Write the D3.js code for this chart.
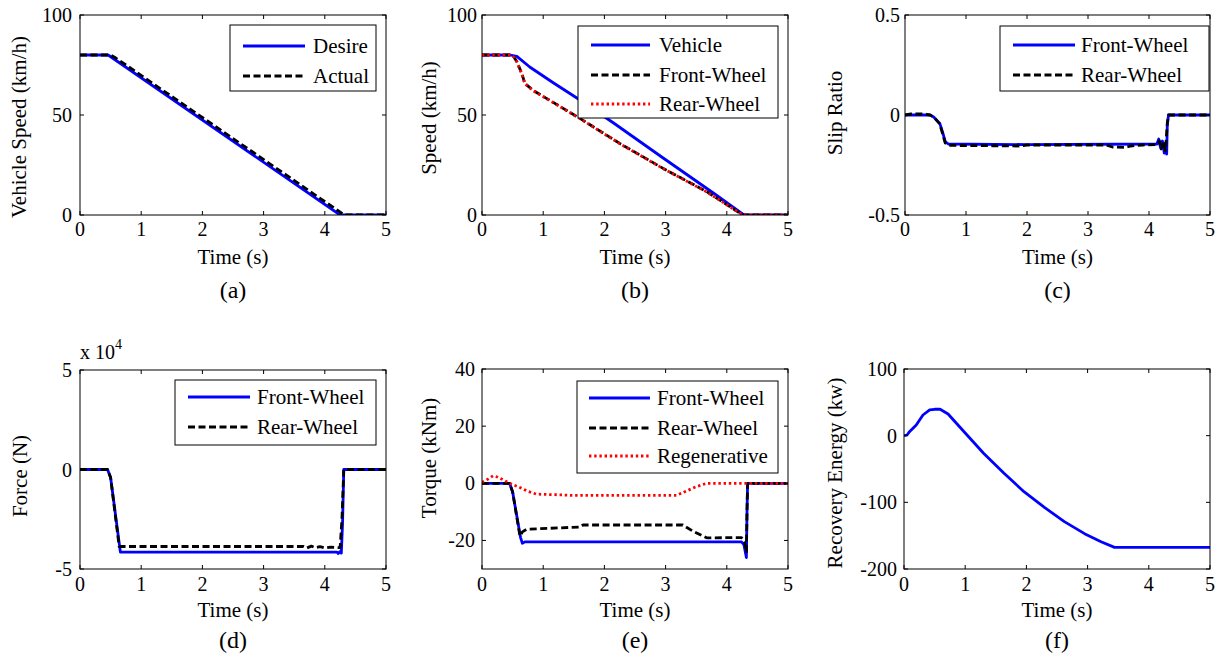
<!DOCTYPE html>
<html>
<head>
<meta charset="utf-8">
<script src="https://cdn.jsdelivr.net/npm/d3@7"></script>
<style>
  body { margin: 0; background: #fff; }
  svg { display: block; }
  text { font-family: "Liberation Serif", "Times New Roman", serif; fill: #000; }
</style>
</head>
<body>
<svg id="fig" width="1223" height="663"></svg>
<script>
// ---- shared time axis ----
const timeTicks = [0, 1, 2, 3, 4, 5];

// ---- (a) vehicle speed tracking, km/h ----
const desireSpeed = [[0, 80], [0.46, 80], [4.25, 0], [5, 0]];
const actualSpeed = [[0, 80], [0.5, 80], [0.58, 78.6], [4.32, 0], [5, 0]];
const speedTicksA = [0, 50, 100];

// ---- (b) vehicle and wheel speeds, km/h ----
const vehicleSpeed = [[0, 80], [0.46, 80], [0.57, 79.3], [0.78, 74], [1.17, 66], [1.55, 58.5],
  [2.15, 46], [2.96, 28.5], [3.78, 11], [4.28, 0], [5, 0]];
const frontWheelSpeed = [[0, 80], [0.46, 80], [0.52, 79], [0.57, 76.7], [0.65, 70.8], [0.70, 65.8],
  [0.84, 62.2], [1.17, 56.2], [1.6, 48.3], [2.25, 35.8], [2.96, 23.3], [3.67, 11.7], [4.22, 0.8],
  [4.27, 0], [5, 0]];
const rearWheelSpeed = [[0, 80], [0.46, 80], [0.52, 79], [0.57, 76.5], [0.65, 70.6], [0.70, 65.6],
  [0.84, 62.1], [1.17, 56.1], [1.6, 48.2], [2.25, 35.7], [2.96, 23.2], [3.67, 11.6], [4.22, 0.8],
  [4.27, 0], [5, 0]];
const speedTicksB = [0, 50, 100];

// ---- (c) slip ratio ----
const frontSlip = [[0, 0], [0.41, 0], [0.47, -0.01], [0.57, -0.042], [0.62, -0.09], [0.66, -0.133],
  [0.71, -0.145], [2, -0.148], [4.13, -0.145], [4.16, -0.12], [4.19, -0.165], [4.22, -0.13],
  [4.25, -0.19], [4.27, -0.14], [4.29, -0.195], [4.3, -0.05], [4.32, 0], [5, 0]];
const rearSlip = [[0, 0], [0.1, 0.005], [0.3, 0.005], [0.41, 0], [0.47, -0.01], [0.57, -0.045],
  [0.66, -0.14], [0.75, -0.152], [1.9, -0.155], [2.0, -0.15], [3.3, -0.15], [3.4, -0.16],
  [3.6, -0.162], [3.7, -0.155], [3.9, -0.15], [4.13, -0.148], [4.17, -0.13], [4.2, -0.17],
  [4.24, -0.135], [4.27, -0.18], [4.3, -0.04], [4.32, 0], [5, 0]];
const slipTicks = [-0.5, 0, 0.5];

// ---- (d) braking force, N ----
const frontForce = [[0, 0], [0.45, 0], [0.5, -4000], [0.66, -41500], [4.2, -41500], [4.22, -42200],
  [4.25, -41200], [4.27, -42000], [4.29, -27000], [4.31, 0], [5, 0]];
const rearForce = [[0, 0], [0.45, 0], [0.5, -4000], [0.64, -38700], [3.65, -38700], [3.7, -39500],
  [3.78, -38500], [3.85, -39300], [3.92, -38800], [4.0, -39400], [4.1, -39000], [4.25, -39300],
  [4.28, -25000], [4.31, 0], [5, 0]];
const forceTicks = [-50000, 0, 50000];

// ---- (e) torque, kNm ----
const frontTorque = [[0, 0], [0.45, 0], [0.5, -3], [0.63, -19], [0.66, -21], [0.7, -20.5],
  [4.24, -20.5], [4.28, -21.5], [4.32, -26], [4.33, -10], [4.34, 0], [5, 0]];
const rearTorque = [[0, 0], [0.45, 0], [0.5, -3], [0.62, -18.5], [0.66, -17], [0.73, -16.1],
  [1.6, -15.3], [1.65, -14.6], [3.28, -14.6], [3.45, -16.8], [3.67, -19.1], [4.24, -19],
  [4.29, -20.5], [4.32, -24], [4.33, -10], [4.34, 0], [5, 0]];
const regenTorque = [[0, 0.3], [0.1, 1.5], [0.18, 2.6], [0.25, 2.2], [0.33, 1.4], [0.45, 0],
  [0.62, -1.5], [0.75, -2.8], [0.89, -3.8], [1.2, -4], [1.44, -4.2], [3.18, -4.2], [3.34, -2.7],
  [3.5, -1.2], [3.67, 0], [5, 0]];
const torqueTicks = [-20, 0, 20, 40];

// ---- (f) recovery energy, kw ----
const recoveryEnergy = [[0, 0], [0.05, 1], [0.09, 6], [0.2, 16], [0.31, 31], [0.42, 38.6],
  [0.5, 39.6], [0.59, 39.6], [0.72, 32.5], [1.0, 4], [1.3, -26.4], [1.63, -56], [1.96, -84],
  [2.3, -108], [2.62, -129], [2.95, -147], [3.22, -159], [3.44, -167.6], [5, -167.6]];
const energyTicks = [-200, -100, 0, 100];

// ---- line styles ----
const styles = {
  blue:  { stroke: "#0000ff", dash: null },
  black: { stroke: "#000000", dash: "7,3.5" },
  red:   { stroke: "#ff0000", dash: "2.4,2.8" }
};

const svg = d3.select("#fig");

function drawPanel(p) {
  const x = d3.scaleLinear().domain([0, 5]).range([p.x0, p.x1]);
  const y = d3.scaleLinear().domain(p.yDomain).range([p.y1, p.y0]);
  const g = svg.append("g");
  const fmt = p.fmt || (d => String(d));

  // clip so curves stay inside the axes box
  const clipId = "clip-" + p.id;
  svg.append("clipPath").attr("id", clipId).append("rect")
    .attr("x", p.x0).attr("y", p.y0).attr("width", p.x1 - p.x0).attr("height", p.y1 - p.y0);

  const line = d3.line().x(d => x(d[0])).y(d => y(d[1]));
  const curves = g.append("g").attr("clip-path", `url(#${clipId})`);
  p.series.forEach(s => {
    const st = styles[s.style];
    curves.append("path").datum(s.data)
      .attr("d", line)
      .attr("fill", "none")
      .attr("stroke", st.stroke)
      .attr("stroke-width", 2.8)
      .attr("stroke-linejoin", "round")
      .attr("stroke-dasharray", st.dash);
  });

  // axes box
  g.append("rect").attr("x", p.x0).attr("y", p.y0)
    .attr("width", p.x1 - p.x0).attr("height", p.y1 - p.y0)
    .attr("fill", "none").attr("stroke", "#000").attr("stroke-width", 1);

  // inward ticks on all four sides
  const tl = 4;
  const tickG = g.append("g").attr("stroke", "#000").attr("stroke-width", 1);
  timeTicks.forEach(t => {
    const xx = x(t);
    tickG.append("line").attr("x1", xx).attr("x2", xx).attr("y1", p.y1).attr("y2", p.y1 - tl);
    tickG.append("line").attr("x1", xx).attr("x2", xx).attr("y1", p.y0).attr("y2", p.y0 + tl);
  });
  p.yTicks.forEach(v => {
    const yy = y(v);
    tickG.append("line").attr("x1", p.x0).attr("x2", p.x0 + tl).attr("y1", yy).attr("y2", yy);
    tickG.append("line").attr("x1", p.x1).attr("x2", p.x1 - tl).attr("y1", yy).attr("y2", yy);
  });

  // tick labels
  timeTicks.forEach(t => {
    g.append("text").attr("x", x(t)).attr("y", p.tickBase)
      .attr("text-anchor", "middle").attr("font-size", 20).text(t);
  });
  p.yTicks.forEach(v => {
    g.append("text").attr("x", p.x0 - p.tickGap).attr("y", y(v)).attr("dy", "0.35em")
      .attr("text-anchor", "end").attr("font-size", 20).text(fmt(v));
  });

  // axis titles and caption
  const cx = (p.x0 + p.x1) / 2;
  g.append("text").attr("x", cx).attr("y", p.xlabelBase)
    .attr("text-anchor", "middle").attr("font-size", 21).text("Time (s)");
  g.append("text").attr("transform", `translate(${p.ylabelX},${p.ylabelY}) rotate(-90)`)
    .attr("text-anchor", "middle").attr("font-size", 21).text(p.ylabel);
  g.append("text").attr("x", cx).attr("y", p.captionBase)
    .attr("text-anchor", "middle").attr("font-size", 24).text(p.caption);

  if (p.exponent) {
    const ex = g.append("text").attr("x", p.x0).attr("y", p.exponent.y).attr("font-size", 20);
    ex.append("tspan").text("x 10");
    ex.append("tspan").attr("dy", -10).attr("font-size", 14).text(p.exponent.power);
  }

  // legend
  if (p.legend) {
    const L = p.legend;
    const lg = g.append("g");
    lg.append("rect").attr("x", L.x0).attr("y", L.y0)
      .attr("width", L.x1 - L.x0).attr("height", L.y1 - L.y0)
      .attr("fill", "#fff").attr("stroke", "#000").attr("stroke-width", 1);
    p.series.forEach((s, i) => {
      const st = styles[s.style];
      const ry = L.rows[i];
      lg.append("line").attr("x1", L.lx0).attr("x2", L.lx1).attr("y1", ry).attr("y2", ry)
        .attr("stroke", st.stroke).attr("stroke-width", 2.8).attr("stroke-dasharray", st.dash);
      lg.append("text").attr("x", L.tx).attr("y", ry).attr("dy", "0.33em")
        .attr("font-size", 21).text(s.name);
    });
  }
}

const topRow = { y0: 15, y1: 215, tickBase: 236, xlabelBase: 264, captionBase: 298 };
const bottomRow = { y0: 369, y1: 569, tickBase: 591, xlabelBase: 617, captionBase: 648 };

const panels = [
  Object.assign({}, topRow, {
    id: "a", x0: 80, x1: 386, yDomain: [0, 100], yTicks: speedTicksA, tickGap: 8,
    ylabel: "Vehicle Speed (km/h)", ylabelX: 26, ylabelY: 127, caption: "(a)",
    series: [
      { name: "Desire", data: desireSpeed, style: "blue" },
      { name: "Actual", data: actualSpeed, style: "black" }
    ],
    legend: { x0: 230, y0: 25, x1: 376, y1: 91, rows: [46, 76], lx0: 243, lx1: 305, tx: 313 }
  }),
  Object.assign({}, topRow, {
    id: "b", x0: 482, x1: 788, yDomain: [0, 100], yTicks: speedTicksB, tickGap: 5,
    ylabel: "Speed (km/h)", ylabelX: 436, ylabelY: 118, caption: "(b)",
    series: [
      { name: "Vehicle", data: vehicleSpeed, style: "blue" },
      { name: "Front-Wheel", data: frontWheelSpeed, style: "black" },
      { name: "Rear-Wheel", data: rearWheelSpeed, style: "red" }
    ],
    legend: { x0: 578, y0: 26, x1: 778, y1: 118, rows: [45, 75, 104], lx0: 591, lx1: 650, tx: 659 }
  }),
  Object.assign({}, topRow, {
    id: "c", x0: 905, x1: 1210, yDomain: [-0.5, 0.5], yTicks: slipTicks, tickGap: 5,
    ylabel: "Slip Ratio", ylabelX: 842, ylabelY: 113, caption: "(c)",
    series: [
      { name: "Front-Wheel", data: frontSlip, style: "blue" },
      { name: "Rear-Wheel", data: rearSlip, style: "black" }
    ],
    legend: { x0: 1000, y0: 26, x1: 1209, y1: 91, rows: [45, 75], lx0: 1013, lx1: 1075, tx: 1081 }
  }),
  Object.assign({}, bottomRow, {
    id: "d", x0: 80, x1: 386, y0: 370, yDomain: [-50000, 50000], yTicks: forceTicks, tickGap: 8,
    fmt: d => String(d / 10000),
    exponent: { y: 359, power: "4" },
    ylabel: "Force (N)", ylabelX: 27, ylabelY: 476, caption: "(d)",
    series: [
      { name: "Front-Wheel", data: frontForce, style: "blue" },
      { name: "Rear-Wheel", data: rearForce, style: "black" }
    ],
    legend: { x0: 175, y0: 380, x1: 376, y1: 445, rows: [397, 427], lx0: 188, lx1: 250, tx: 257 }
  }),
  Object.assign({}, bottomRow, {
    id: "e", x0: 482, x1: 788, yDomain: [-30, 40], yTicks: torqueTicks, tickGap: 7,
    ylabel: "Torque (kNm)", ylabelX: 436, ylabelY: 458, caption: "(e)",
    series: [
      { name: "Front-Wheel", data: frontTorque, style: "blue" },
      { name: "Rear-Wheel", data: rearTorque, style: "black" },
      { name: "Regenerative", data: regenTorque, style: "red" }
    ],
    legend: { x0: 577, y0: 381, x1: 778, y1: 473, rows: [398, 428, 456], lx0: 589, lx1: 650, tx: 657 }
  }),
  Object.assign({}, bottomRow, {
    id: "f", x0: 904, x1: 1210, yDomain: [-200, 100], yTicks: energyTicks, tickGap: 7,
    ylabel: "Recovery Energy (kw)", ylabelX: 842, ylabelY: 473, caption: "(f)",
    series: [
      { name: "Recovery Energy", data: recoveryEnergy, style: "blue" }
    ],
    legend: null
  })
];

panels.forEach(drawPanel);
</script>
</body>
</html>
